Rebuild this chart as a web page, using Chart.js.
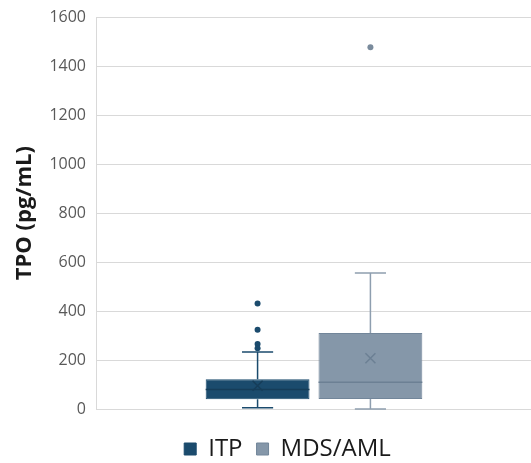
<!DOCTYPE html>
<html>
<head>
<meta charset="utf-8">
<script src="https://cdn.jsdelivr.net/npm/chart.js@4"></script>
<style>
  html, body { margin: 0; padding: 0; background: #fff; }
  #wrap { width: 531px; height: 463px; }
</style>
</head>
<body>
<div id="wrap"><canvas id="tpoChart"></canvas></div>
<script>
// ─── Data ────────────────────────────────────────────────────
const groups      = ["ITP", "MDS/AML"];
const q1          = [40, 41];
const q3          = [122, 311];
const medians     = [80, 109];
const means       = [95, 207];
const whiskerLow  = [5, 0];
const whiskerHigh = [233, 556];
const outliersITP = [431, 324, 266, 248];
const outliersMDS = [1478];
const yTicks      = [0, 200, 400, 600, 800, 1000, 1200, 1400, 1600];

const fills    = ["#1b4b6d", "#8597a9"];
const edges    = ["#1b4b6d", "#72869a"];
const inner    = ["#163d59", "#6c8094"];
const outliers = [outliersITP, outliersMDS];

// ─── Box-plot extras drawn over the floating bars ────────────
const boxExtras = {
  id: "boxExtras",
  afterLayout(chart) {
    // legend sits a bit right of centre in the original
    chart.legend.left += 14;
    chart.legend.right += 14;
  },
  afterDatasetsDraw(chart) {
    const { ctx } = chart;
    const y = chart.scales.y;
    chart.data.datasets.forEach((ds, i) => {
      const bar = chart.getDatasetMeta(i).data[0];
      if (!bar) return;
      const cx = bar.x;
      const half = bar.width / 2;
      const cap = bar.width * 0.15;
      const yQ1 = y.getPixelForValue(q1[i]);
      const yQ3 = y.getPixelForValue(q3[i]);
      const yLo = y.getPixelForValue(whiskerLow[i]);
      const yHi = y.getPixelForValue(whiskerHigh[i]);

      ctx.save();
      // whiskers
      ctx.strokeStyle = i === 0 ? fills[0] : "#8e9eaf";
      ctx.lineWidth = 1.5;
      ctx.beginPath();
      ctx.moveTo(cx, yQ3); ctx.lineTo(cx, yHi);
      ctx.moveTo(cx - cap, yHi); ctx.lineTo(cx + cap, yHi);
      ctx.moveTo(cx, yQ1); ctx.lineTo(cx, yLo);
      ctx.moveTo(cx - cap, yLo); ctx.lineTo(cx + cap, yLo);
      ctx.stroke();

      // median
      const yMed = y.getPixelForValue(medians[i]);
      ctx.strokeStyle = inner[i];
      ctx.lineWidth = 1.5;
      ctx.beginPath();
      ctx.moveTo(cx - half, yMed); ctx.lineTo(cx + half, yMed);
      ctx.stroke();

      // mean marker (x)
      const yMean = y.getPixelForValue(means[i]);
      const s = 5;
      ctx.beginPath();
      ctx.moveTo(cx - s, yMean - s); ctx.lineTo(cx + s, yMean + s);
      ctx.moveTo(cx + s, yMean - s); ctx.lineTo(cx - s, yMean + s);
      ctx.stroke();

      // outliers
      ctx.fillStyle = i === 0 ? fills[0] : "#7a8b9c";
      outliers[i].forEach(v => {
        ctx.beginPath();
        ctx.arc(cx, y.getPixelForValue(v), 3, 0, Math.PI * 2);
        ctx.fill();
      });
      ctx.restore();
    });
  }
};

new Chart(document.getElementById("tpoChart"), {
  type: "bar",
  data: {
    labels: [""],
    datasets: groups.map((g, i) => ({
      label: g,
      data: [[q1[i], q3[i]]],
      backgroundColor: fills[i],
      borderColor: edges[i],
      borderWidth: 1,
      borderSkipped: false,
      categoryPercentage: 0.52,
      barPercentage: 0.92,
    })),
  },
  options: {
    responsive: true,
    maintainAspectRatio: false,
    animation: false,
    layout: { padding: { top: 4, right: -4, left: 12, bottom: -8 } },
    plugins: {
      tooltip: { enabled: false },
      legend: {
        position: "bottom",
        labels: {
          boxWidth: 12,
          boxHeight: 12,
          padding: 14,
          color: "#1a1a1a",
          font: { family: "Open Sans", size: 24 },
        },
      },
    },
    scales: {
      x: {
        display: true,
        grid: { display: false },
        border: { display: false },
        ticks: { display: false },
        afterFit: axis => { axis.height = 14; },
      },
      y: {
        min: 0,
        max: 1600,
        afterBuildTicks: axis => { axis.ticks = yTicks.map(v => ({ value: v })); },
        grid: { color: "#d9d9d9", drawTicks: false, lineWidth: 1 },
        border: { display: true, color: "#d9d9d9" },
        ticks: {
          color: "#595959",
          padding: 11,
          font: { family: "Open Sans", size: 16, lineHeight: 0.8 },
          callback: v => String(v),
        },
        title: {
          display: true,
          text: "TPO (pg/mL)",
          color: "#1a1a1a",
          padding: { top: 0, bottom: 0 },
          font: { family: "Open Sans", size: 22, weight: "bold" },
        },
      },
    },
  },
  plugins: [boxExtras],
});
</script>
</body>
</html>
